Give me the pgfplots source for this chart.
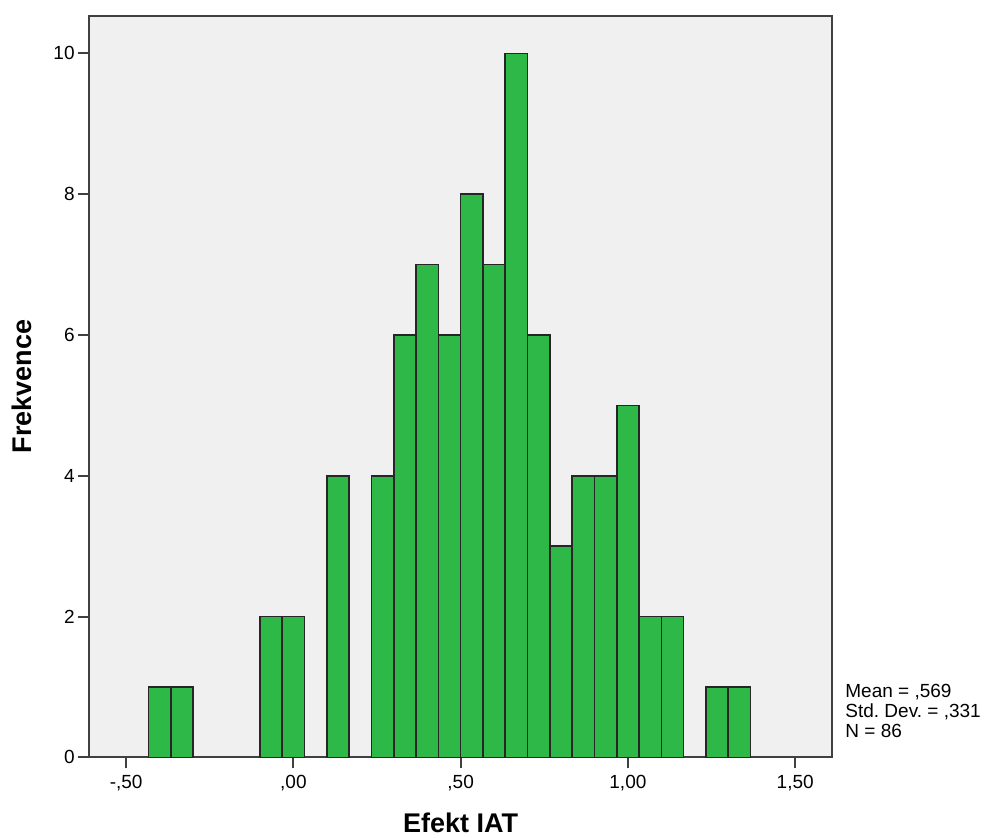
\documentclass[border=0pt]{standalone}
\usepackage{fontspec}
\setmainfont{Liberation Sans}
\usepackage{pgfplots}
\pgfplotsset{compat=1.18}
\definecolor{bargreen}{RGB}{46,184,72}
\definecolor{plotbg}{RGB}{240,240,240}
\definecolor{framegray}{RGB}{64,64,64}
\frenchspacing

\begin{document}
\begin{tikzpicture}
\begin{axis}[
    name=ax,
    scale only axis,
    width=371.65pt,
    height=370.65pt,
    xmin=-0.611, xmax=1.611,
    ymin=0, ymax=10.53,
    axis background/.style={fill=plotbg},
    axis line style={draw=framegray, line width=1pt},
    tick align=outside,
    tick pos=left,
    major tick length=5.5pt,
    tick style={draw=framegray, line width=1pt},
    xtick={-0.5,0,0.5,1,1.5},
    xticklabels={{-,50},{,00},{,50},{1,00},{1,50}},
    ytick={0,2,4,6,8,10},
    yticklabels={0,2,4,6,8,10},
    ticklabel style={font=\fontsize{9.5}{11}\selectfont},
    yticklabel style={inner sep=1.5pt},
    xlabel={Efekt IAT},
    ylabel={Frekvence},
    label style={font=\fontsize{13.5}{15}\selectfont\bfseries},
    xlabel style={at={(rel axis cs:0.5,0)}, anchor=center, yshift=-32.85pt},
    ylabel style={at={(rel axis cs:0,0.5)}, anchor=center, yshift=33.5pt},
]
\addplot[ybar, bar width=0.06667, bar shift=0pt, fill=bargreen, draw=black!85, line width=0.8pt] coordinates {
    (-0.4000,1) (-0.3333,1)
    (-0.0667,2) (0.0000,2)
    (0.1333,4)
    (0.2667,4) (0.3333,6) (0.4000,7) (0.4667,6) (0.5333,8) (0.6000,7)
    (0.6667,10) (0.7333,6) (0.8000,3) (0.8667,4) (0.9333,4) (1.0000,5)
    (1.0667,2) (1.1333,2)
    (1.2667,1) (1.3333,1)
};
\end{axis}
\node[anchor=north west, align=left, inner sep=0pt, font=\fontsize{9.5}{10}\selectfont]
    at ([shift={(378pt,36.65pt)}]ax.south west) {Mean = ,569\\Std. Dev. = ,331\\N = 86};
\pgfresetboundingbox
\path ([shift={(-44.5pt,-39.85pt)}]ax.south west) rectangle ([shift={(447.5pt,378.65pt)}]ax.south west);
\end{tikzpicture}
\end{document}
